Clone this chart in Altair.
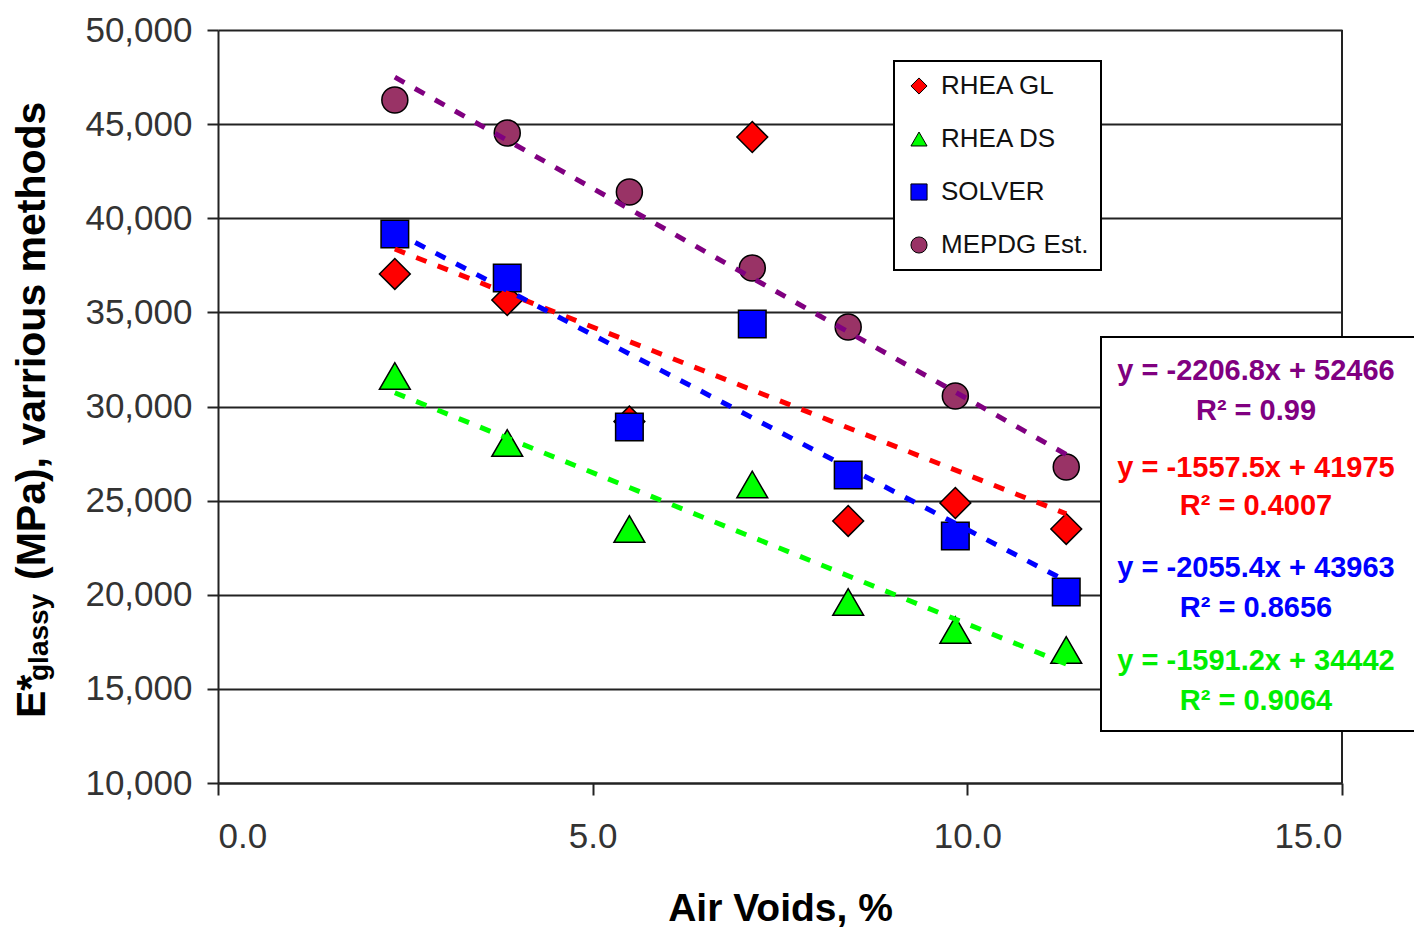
import altair as alt
import pandas as pd

# ---------------- data ----------------
series_names = ["RHEA GL", "RHEA DS", "SOLVER", "MEPDG Est."]
air_voids = [2.36, 3.86, 5.49, 7.13, 8.41, 9.84, 11.32]
rhea_gl = [37039, 35657, 29200, 44316, 23918, 24874, 23493]
rhea_ds = [31620, 28061, 23493, 25857, 19615, 18127, 17065]
solver = [39163, 36826, 28911, 34382, 26361, 23121, 20146]
mepdg = [46282, 44529, 41394, 37357, 34223, 30558, 26786]

marker_fill = ["#FF0000", "#00FF00", "#0000FF", "#993366"]
trend_color = ["#FF0000", "#00FF00", "#0000FF", "#800080"]
shapes = ["diamond", "triangle-up", "square", "circle"]
marker_size = [950, 950, 760, 676]

eq_lines = ["y = -2206.8x + 52466", "R² = 0.99",
            "y = -1557.5x + 41975", "R² = 0.4007",
            "y = -2055.4x + 43963", "R² = 0.8656",
            "y = -1591.2x + 34442", "R² = 0.9064"]
eq_colors = ["#800080", "#800080", "#FF0000", "#FF0000",
             "#0000FF", "#0000FF", "#00EE00", "#00EE00"]

x_ticks = [0, 5, 10, 15]
y_ticks = list(range(10000, 50001, 5000))

rows = []
for name, vals in zip(series_names, [rhea_gl, rhea_ds, solver, mepdg]):
    for xv, yv in zip(air_voids, vals):
        rows.append({"series": name, "x": xv, "y": yv})
df = pd.DataFrame(rows)
one = pd.DataFrame({"k": [0]})

W, H = 1124, 753
FONT = "Liberation Sans"

X_enc = alt.X("x:Q", scale=alt.Scale(domain=[0, 15], nice=False, zero=False),
              axis=alt.Axis(values=x_ticks, format=".1f", title="Air Voids, %",
                            grid=False, tickSize=12, labelPadding=24,
                            labelFontSize=35, titleFontSize=39, titleFontWeight="bold",
                            titleBaseline="alphabetic", titleY=137))
Y_enc = alt.Y("y:Q", scale=alt.Scale(domain=[10000, 50000], nice=False, zero=False),
              axis=alt.Axis(values=y_ticks, format=",.0f", title=None, grid=True,
                            tickSize=11, labelPadding=15, labelFontSize=35))

color_scale = alt.Scale(domain=series_names, range=marker_fill)
shape_scale = alt.Scale(domain=series_names, range=shapes)

# right border of plot area
border = alt.Chart(one).mark_rule(color="#222", strokeWidth=2).encode(
    x=alt.value(W), y=alt.value(0), y2=alt.value(H))

# legend-driving layer (no data drawn, small legend symbols)
legend_layer = alt.Chart(df).transform_filter("false").mark_point(
    filled=True, size=260, stroke="black", strokeWidth=1, opacity=1).encode(
    x=X_enc, y=Y_enc,
    color=alt.Color("series:N", scale=color_scale,
                    legend=alt.Legend(title=None, orient="none", legendX=676, legendY=31,
                                      labelFontSize=26, labelFont=FONT, labelColor="#111",
                                      symbolSize=260, padding=12, rowPadding=27,
                                      labelOffset=9, strokeColor="black",
                                      fillColor="white", symbolStrokeColor="black",
                                      symbolStrokeWidth=1, cornerRadius=0)),
    shape=alt.Shape("series:N", scale=shape_scale),
)

point_layers = []
for name, sz in zip(series_names, marker_size):
    point_layers.append(
        alt.Chart(df).transform_filter(alt.datum.series == name)
        .mark_point(filled=True, stroke="black", strokeWidth=1.5, opacity=1, size=sz)
        .encode(
            x=X_enc, y=Y_enc,
            color=alt.Color("series:N", scale=color_scale, legend=None),
            shape=alt.Shape("series:N", scale=shape_scale, legend=None),
        )
    )

trends = []
for name, col in zip(series_names, trend_color):
    trends.append(
        alt.Chart(df).transform_filter(alt.datum.series == name)
        .transform_regression("x", "y")
        .mark_line(color=col, strokeWidth=5, strokeDash=[11, 12])
        .encode(x=X_enc, y=Y_enc)
    )

eq_box = alt.Chart(one).mark_rect(fill="white", stroke="black", strokeWidth=2).encode(
    x=alt.value(883), x2=alt.value(1215), y=alt.value(307), y2=alt.value(701))

eq_baselines = [350, 390, 447, 485, 547, 587, 640, 680]
eq_texts = []
for txt, col, yb in zip(eq_lines, eq_colors, eq_baselines):
    eq_texts.append(
        alt.Chart(one).mark_text(font=FONT, fontSize=29, fontWeight="bold", color=col,
                                 align="center", baseline="alphabetic")
        .encode(x=alt.value(1038), y=alt.value(yb), text=alt.value(txt))
    )

# y axis title with subscript
ytitle_parts = [("E*", 41, -173, 688), ("glassy", 28, -170, 651),
                ("(MPa), varrious methods", 41, -173, 550)]
ytitles = []
for txt, fs, xp, yp in ytitle_parts:
    ytitles.append(
        alt.Chart(one).mark_text(font=FONT, fontSize=fs, fontWeight="bold", color="black",
                                 angle=270, align="left", baseline="alphabetic")
        .encode(x=alt.value(xp), y=alt.value(yp), text=alt.value(txt))
    )

chart = alt.layer(border, legend_layer, *point_layers, *trends, eq_box, *eq_texts,
                  *ytitles).properties(
    width=W, height=H,
    padding={"left": 218, "top": 30, "right": 72, "bottom": 147},
    autosize=alt.AutoSizeParams(type="none"),
).configure_view(stroke=None).configure_axis(
    labelFont=FONT, titleFont=FONT, labelColor="#333", titleColor="black",
    domainColor="#222", domainWidth=2, tickColor="#222", tickWidth=2,
    gridColor="#222", gridWidth=2, gridOpacity=1,
).configure_legend(strokeWidth=2)

chart.save("out.html", embed_options={"renderer": "svg", "actions": False})
